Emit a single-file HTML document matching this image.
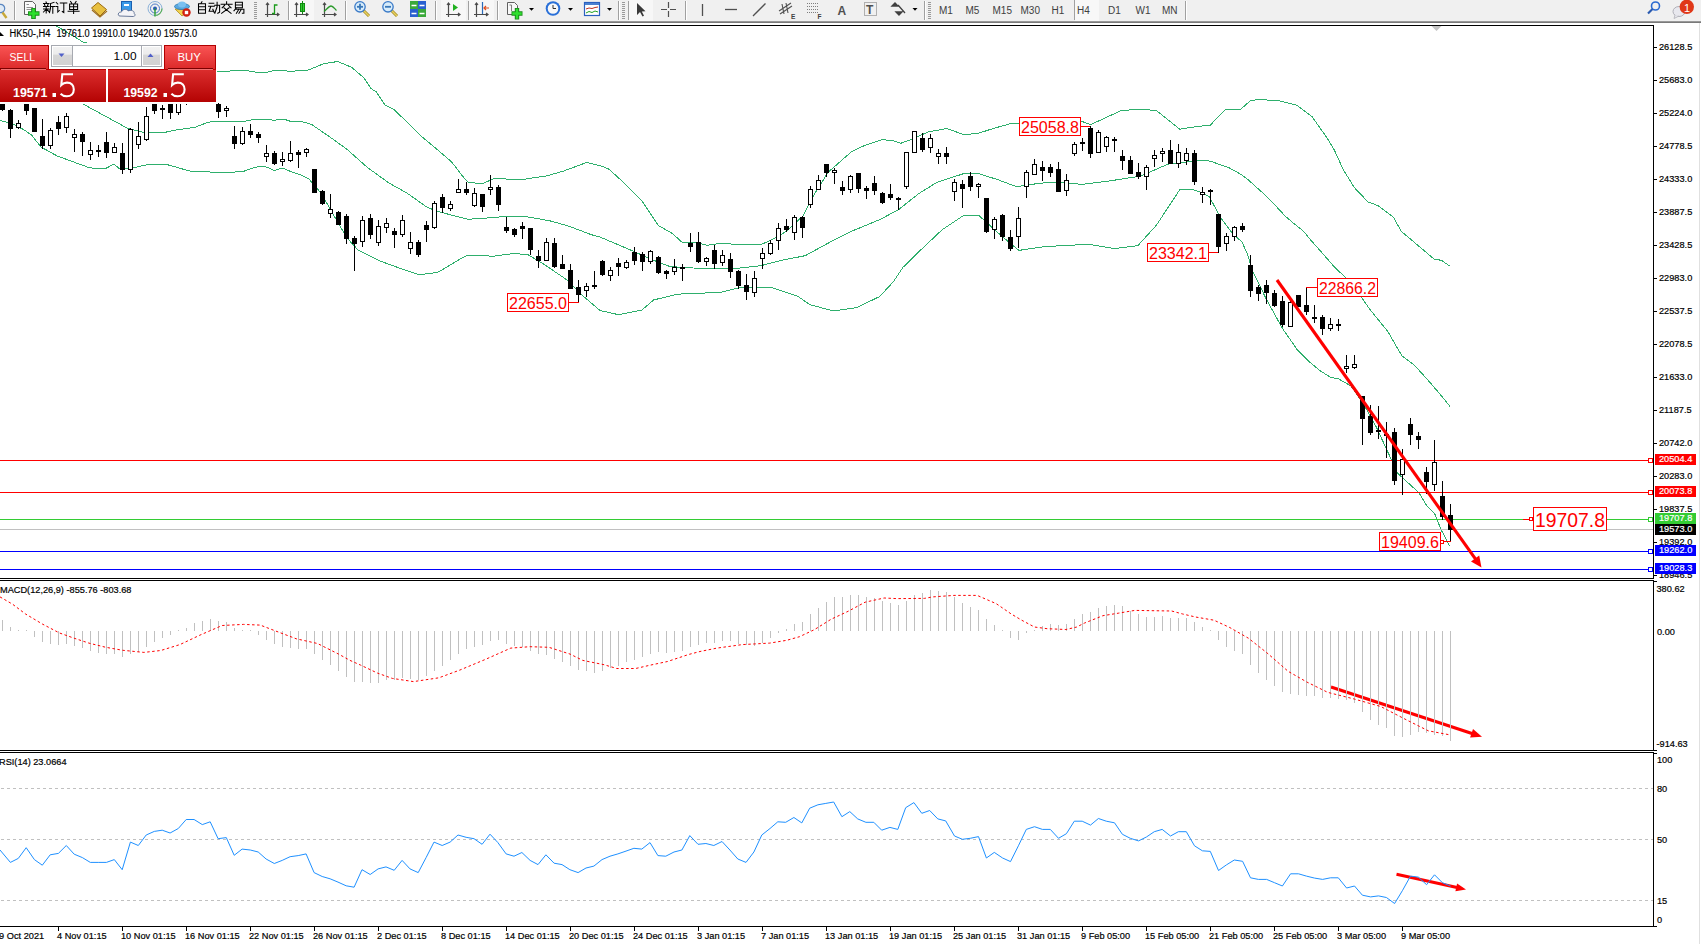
<!DOCTYPE html>
<html><head><meta charset="utf-8">
<style>
html,body{margin:0;padding:0;background:#fff;}
body{width:1701px;height:944px;overflow:hidden;position:relative;font-family:"Liberation Sans",sans-serif;}
#tb{position:absolute;left:0;top:0;width:1701px;height:21px;background:#f0f0f0;}
#tbline{position:absolute;left:0;top:21px;width:1701px;height:2px;background:linear-gradient(#a8a8a8,#6a6a6a);}
.abs{position:absolute;}
</style></head><body>
<div id="tb"></div><div id="tbline"></div>
<svg class="abs" style="left:0;top:0" width="1701" height="21">
<circle cx="0.5" cy="8.5" r="4.2" fill="#dfeaf5" stroke="#5a86c0" stroke-width="1.2"/><path d="M2.5,12.5 L6.5,18" stroke="#c8a838" stroke-width="2.4"/>
<rect x="14" y="1" width="1" height="19" fill="#a0a0a0"/><rect x="15" y="1" width="1" height="19" fill="#ffffff"/>
<path d="M24.5,1.5 H32.5 L35.5,4.5 V14.5 H24.5 Z" fill="#fafafa" stroke="#606060" stroke-width="1"/>
<path d="M26.5,4.5 H29 M26.5,7.5 H33 M26.5,9.5 H33" stroke="#909090" stroke-width="1"/>
<path d="M33.5,8 V19 M28,13.5 H39.5" stroke="#1a8a1a" stroke-width="4.6"/><path d="M33.5,8.8 V18.2 M28.8,13.5 H38.7" stroke="#2ee02e" stroke-width="2.6"/>
<g fill="none" stroke="#000" stroke-width="1.05" stroke-linecap="square"><path transform="translate(43.0,1.5)" d="M3,0.5 L3.5,1.5 M0.5,2 H6 M1.5,2.8 L2,4.5 M5,2.8 L4.5,4.5 M0.5,5 H6 M3.2,5 V11.5 M0.5,7.5 H6 M3,8 L0.5,10.5 M3.5,8 L6,10 M11,0.8 L7.5,2 V7 L6.5,11 M7.5,5 H11.5 M9.8,5 V11.8"/><path transform="translate(55.3,1.5)" d="M1,1 L2.5,2.5 M0.5,5 H2.5 V10.5 L4,9 M5,1.5 H11.5 M8.5,1.5 V11 L7,10"/><path transform="translate(67.6,1.5)" d="M3,0 L4,1.5 M8.5,0 L7.5,1.5 M2,2.5 H10 V8 H2 Z M2,5.2 H10 M6,2.5 V12 M0.5,9.8 H11.5"/></g>
<path d="M91.5,8 L98,2.5 L106.5,9.5 L100,16 Z" fill="#e8c040" stroke="#9a6a10" stroke-width="1"/><path d="M92,10 L100,17 L107,11" fill="none" stroke="#a07020" stroke-width="1.2"/>
<rect x="121.5" y="1.5" width="10" height="9" fill="#3a9ae8" stroke="#1a60b0"/><rect x="124" y="4" width="5" height="2" fill="#fff"/>
<path d="M120,16 C117,16 118,11.5 121.5,12 C122,9 127,8.5 128.5,11 C131,9.5 135,11 134,13.5 C136,14.5 135,16.5 133,16.5 Z" fill="#f4f4f8" stroke="#6a7a9a" stroke-width="1"/>
<circle cx="155" cy="8.5" r="7" fill="none" stroke="#8ab0d8" stroke-width="1"/><circle cx="155" cy="8.5" r="4.5" fill="none" stroke="#4a7ac8" stroke-width="1"/><circle cx="155" cy="8.5" r="2" fill="#2a5ab8"/><path d="M155,8.5 V16.5" stroke="#2aa02a" stroke-width="1.4"/><path d="M162,8.5 A7,7 0 0 1 155,15.5" fill="none" stroke="#5ab05a" stroke-width="1.2"/>
<path d="M175,9 L182,16 L189,10 Z" fill="#f0d050" stroke="#b09020" stroke-width="0.8"/><ellipse cx="182" cy="6.5" rx="7.5" ry="3" fill="#5aa8e0" stroke="#2a78b0" stroke-width="0.8"/><ellipse cx="182" cy="4.5" rx="4" ry="3" fill="#7ac0f0"/>
<circle cx="186.5" cy="12.5" r="4.2" fill="#d02010"/><rect x="184.8" y="10.8" width="3.4" height="3.4" fill="#fff"/>
<g fill="none" stroke="#000" stroke-width="1.05" stroke-linecap="square"><path transform="translate(196.0,1.8)" d="M6,0 L5,1.5 M2.5,2 H9.5 V11.5 H2.5 Z M2.5,5 H9.5 M2.5,8 H9.5"/><path transform="translate(208.3,1.8)" d="M0.8,1.5 H5.5 M0.3,4.5 H6 M2.5,4.5 L0.8,9.5 H5.5 M4.5,7.5 L5.8,10.5 M6.5,3.5 H11.3 V10.5 L9.5,11.5 M8.8,0.5 V5 L6.5,11.5"/><path transform="translate(220.6,1.8)" d="M6,0 V1.5 M0.5,2.5 H11.5 M4,3.5 L1.5,6 M8,3.5 L10.5,6 M3.5,6 L10.5,11.5 M8.5,6 L1,11.5"/><path transform="translate(232.9,1.8)" d="M2.5,0.5 H9.5 V6 H2.5 Z M2.5,3.2 H9.5 M3.5,6 L1,9 M3,7.5 H11 V11.5 L9.5,11.5 M6,7.5 L3.5,11.5 M8.5,7.5 L6,11.5"/></g>
<rect x="254" y="2" width="3" height="1" fill="#9a9a9a"/><rect x="254" y="4" width="3" height="1" fill="#9a9a9a"/><rect x="254" y="6" width="3" height="1" fill="#9a9a9a"/><rect x="254" y="8" width="3" height="1" fill="#9a9a9a"/><rect x="254" y="10" width="3" height="1" fill="#9a9a9a"/><rect x="254" y="12" width="3" height="1" fill="#9a9a9a"/><rect x="254" y="14" width="3" height="1" fill="#9a9a9a"/><rect x="254" y="16" width="3" height="1" fill="#9a9a9a"/><rect x="254" y="18" width="3" height="1" fill="#9a9a9a"/>
<g stroke="#4a4a4a" stroke-width="1.2" fill="none"><path d="M267.5,3.0 V17.0 M265.0,14.5 H279.0"/><path d="M266.0,5.0 L267.5,3.0 L269.0,5.0 M277.0,13.0 L279.0,14.5 L277.0,16.0"/></g>
<path d="M272,13.5 H274.5 V5 H277.5" fill="none" stroke="#1a9a1a" stroke-width="1.3"/>
<rect x="288" y="1" width="1" height="19" fill="#a0a0a0"/><rect x="289" y="1" width="1" height="19" fill="#ffffff"/>
<rect x="290" y="0" width="24" height="21" fill="#f7f7f7"/>
<g stroke="#4a4a4a" stroke-width="1.2" fill="none"><path d="M296.5,3.0 V17.0 M294.0,14.5 H308.0"/><path d="M295.0,5.0 L296.5,3.0 L298.0,5.0 M306.0,13.0 L308.0,14.5 L306.0,16.0"/></g>
<rect x="300.5" y="3.5" width="4" height="8" fill="#30d030" stroke="#108a10"/><path d="M302.5,1 V14" stroke="#108a10" stroke-width="1"/>
<g stroke="#4a4a4a" stroke-width="1.2" fill="none"><path d="M324.5,3.0 V17.0 M322.0,14.5 H336.0"/><path d="M323.0,5.0 L324.5,3.0 L326.0,5.0 M334.0,13.0 L336.0,14.5 L334.0,16.0"/></g>
<path d="M324,11.5 C327,9 329,6 331,6 C333,6 334.5,8.5 336.5,10.5" fill="none" stroke="#2a9a2a" stroke-width="1.3"/>
<rect x="345" y="1" width="1" height="19" fill="#a0a0a0"/><rect x="346" y="1" width="1" height="19" fill="#ffffff"/>
<path d="M363.5,10.5 L369.0,16.0" stroke="#a08a20" stroke-width="3"/><path d="M363.5,10.5 L369.0,16.0" stroke="#e8d060" stroke-width="1.6"/>
<circle cx="360.0" cy="6.8" r="5.2" fill="#d8ecfa" stroke="#3a7ac8" stroke-width="1.3"/>
<path d="M357.0,6.8 H363.0" stroke="#3a78b8" stroke-width="1.8"/>
<path d="M360.0,3.8 V9.8" stroke="#3a78b8" stroke-width="1.8"/>
<path d="M391.5,10.5 L397.0,16.0" stroke="#a08a20" stroke-width="3"/><path d="M391.5,10.5 L397.0,16.0" stroke="#e8d060" stroke-width="1.6"/>
<circle cx="388.0" cy="6.8" r="5.2" fill="#d8ecfa" stroke="#3a7ac8" stroke-width="1.3"/>
<path d="M385.0,6.8 H391.0" stroke="#3a78b8" stroke-width="1.8"/>
<rect x="410" y="1" width="8" height="8" fill="#3aa83a"/><rect x="418" y="1" width="8" height="8" fill="#2a60d0"/><rect x="410" y="9" width="8" height="8" fill="#2a60d0"/><rect x="418" y="9" width="8" height="8" fill="#3aa83a"/>
<path d="M411.5,5.5 H416.5 M419.5,5.5 H424.5 M411.5,13.5 H416.5 M419.5,13.5 H424.5" stroke="#fff" stroke-width="1.6"/>
<rect x="435" y="1" width="1" height="19" fill="#a0a0a0"/><rect x="436" y="1" width="1" height="19" fill="#ffffff"/>
<rect x="441" y="0" width="25" height="21" fill="#f7f7f7"/>
<g stroke="#4a4a4a" stroke-width="1.2" fill="none"><path d="M448.5,3.0 V17.0 M446.0,14.5 H460.0"/><path d="M447.0,5.0 L448.5,3.0 L450.0,5.0 M458.0,13.0 L460.0,14.5 L458.0,16.0"/></g>
<path d="M453,4 L458,7.5 L453,11 Z" fill="#20b020"/>
<rect x="468" y="1" width="1" height="19" fill="#a0a0a0"/><rect x="469" y="1" width="1" height="19" fill="#ffffff"/>
<rect x="469" y="0" width="25" height="21" fill="#f7f7f7"/>
<g stroke="#4a4a4a" stroke-width="1.2" fill="none"><path d="M476.5,3.0 V17.0 M474.0,14.5 H488.0"/><path d="M475.0,5.0 L476.5,3.0 L478.0,5.0 M486.0,13.0 L488.0,14.5 L486.0,16.0"/></g>
<path d="M482.5,2 V14" stroke="#2a6ab8" stroke-width="1.2"/><path d="M489,8 H484 M486,6 L484,8 L486,10" fill="none" stroke="#e05020" stroke-width="1.2"/>
<rect x="497" y="1" width="1" height="19" fill="#a0a0a0"/><rect x="498" y="1" width="1" height="19" fill="#ffffff"/>
<path d="M507.5,2.5 H514.5 L517.5,5.5 V14.5 H507.5 Z" fill="#f8f8f8" stroke="#606060"/><path d="M509.5,5 H511.5 V11" fill="none" stroke="#707070" stroke-width="0.9"/>
<path d="M517,8 V19.5 M511.5,13.5 H522.5" stroke="#1a8a1a" stroke-width="4.4"/><path d="M517,8.8 V18.7 M512.3,13.5 H521.7" stroke="#30e030" stroke-width="2.4"/>
<path d="M529,8 H534 L531.5,10.8 Z" fill="#000"/>
<circle cx="553" cy="8.5" r="7.3" fill="#2a70d8"/><circle cx="553" cy="8.5" r="5.3" fill="#f8f8f8"/><path d="M553,5 V8.5 H556" fill="none" stroke="#303030" stroke-width="1"/>
<path d="M568,8 H573 L570.5,10.8 Z" fill="#000"/>
<rect x="584.5" y="2.5" width="15" height="13" fill="#fff" stroke="#2a60c0" stroke-width="1.2"/><rect x="585" y="3" width="14" height="2" fill="#4a80d0"/><path d="M586,9 L589,8 L592,8.5 L595,7.5 L598,7" fill="none" stroke="#c03020" stroke-width="1"/><path d="M586,13 L589,11.5 L592,12.5 L595,11 L598,12" fill="none" stroke="#20a020" stroke-width="1"/>
<path d="M607,8 H612 L609.5,10.8 Z" fill="#000"/>
<rect x="618" y="1" width="1" height="19" fill="#a0a0a0"/><rect x="619" y="1" width="1" height="19" fill="#ffffff"/>
<rect x="622" y="2" width="3" height="1" fill="#9a9a9a"/><rect x="622" y="4" width="3" height="1" fill="#9a9a9a"/><rect x="622" y="6" width="3" height="1" fill="#9a9a9a"/><rect x="622" y="8" width="3" height="1" fill="#9a9a9a"/><rect x="622" y="10" width="3" height="1" fill="#9a9a9a"/><rect x="622" y="12" width="3" height="1" fill="#9a9a9a"/><rect x="622" y="14" width="3" height="1" fill="#9a9a9a"/><rect x="622" y="16" width="3" height="1" fill="#9a9a9a"/><rect x="622" y="18" width="3" height="1" fill="#9a9a9a"/>
<rect x="628" y="1" width="1" height="19" fill="#a0a0a0"/><rect x="629" y="1" width="1" height="19" fill="#ffffff"/>
<rect x="629" y="0" width="24" height="21" fill="#f7f7f7"/>
<path d="M637,3 L637,15 L640,12 L642.5,16.5 L644,15.8 L641.8,11.5 L645.5,11.3 Z" fill="#3a3a3a"/>
<path d="M668.5,2 V17 M661,9.5 H676" stroke="#505050" stroke-width="1.2"/><rect x="667" y="8" width="3" height="3" fill="#f0f0f0"/>
<rect x="685" y="1" width="1" height="19" fill="#a0a0a0"/><rect x="686" y="1" width="1" height="19" fill="#ffffff"/>
<path d="M702.5,4 V16" stroke="#505050" stroke-width="1.3"/>
<path d="M725,9.5 H737" stroke="#505050" stroke-width="1.3"/>
<path d="M753,16 L765.5,3.5" stroke="#505050" stroke-width="1.3"/>
<path d="M779,11 L791,3 M780,14 L792,6 M782,4 L784,14 M786,3 L788,13" stroke="#505050" stroke-width="1.1"/><text x="791" y="19" font-family="Liberation Sans" font-size="6.5" font-weight="bold" fill="#404040">E</text>
<path d="M807,3.5 H819 M807,6.5 H819 M807,9.5 H819 M807,12.5 H819" stroke="#707070" stroke-width="0.9" stroke-dasharray="1,1"/><text x="817.5" y="19" font-family="Liberation Sans" font-size="6.5" font-weight="bold" fill="#404040">F</text>
<text x="837.5" y="15" font-family="Liberation Sans" font-size="12" font-weight="bold" fill="#505050">A</text>
<rect x="864.5" y="2.5" width="12" height="13" fill="none" stroke="#707070" stroke-width="1" stroke-dasharray="1,1"/><text x="866" y="14" font-family="Liberation Sans" font-size="12" font-weight="bold" fill="#505050">T</text>
<path d="M892,6 L895,3 L898,6 Z M896,12 L899,15 L902,12 Z M898,5 L905,13" fill="#404040" stroke="#404040" stroke-width="1.3"/>
<path d="M912.5,8 H917.5 L915,10.8 Z" fill="#000"/>
<rect x="924" y="1" width="1" height="19" fill="#a0a0a0"/><rect x="925" y="1" width="1" height="19" fill="#ffffff"/>
<rect x="928" y="2" width="3" height="1" fill="#9a9a9a"/><rect x="928" y="4" width="3" height="1" fill="#9a9a9a"/><rect x="928" y="6" width="3" height="1" fill="#9a9a9a"/><rect x="928" y="8" width="3" height="1" fill="#9a9a9a"/><rect x="928" y="10" width="3" height="1" fill="#9a9a9a"/><rect x="928" y="12" width="3" height="1" fill="#9a9a9a"/><rect x="928" y="14" width="3" height="1" fill="#9a9a9a"/><rect x="928" y="16" width="3" height="1" fill="#9a9a9a"/><rect x="928" y="18" width="3" height="1" fill="#9a9a9a"/>
<g font-family="Liberation Sans" font-size="10" fill="#404040">
<text x="939.0" y="13.5">M1</text>
<text x="965.5" y="13.5">M5</text>
<text x="992.5" y="13.5">M15</text>
<text x="1020.5" y="13.5">M30</text>
<text x="1051.5" y="13.5">H1</text>
</g><rect x="1074" y="0" width="1" height="20" fill="#a0a0a0"/><rect x="1075" y="0" width="24" height="21" fill="#f8f8f8"/><g font-family="Liberation Sans" font-size="10" fill="#404040">
<text x="1077.0" y="13.5">H4</text>
<text x="1108.0" y="13.5">D1</text>
<text x="1135.5" y="13.5">W1</text>
<text x="1162.0" y="13.5">MN</text>
</g>
<rect x="1185" y="1" width="1" height="19" fill="#a0a0a0"/><rect x="1186" y="1" width="1" height="19" fill="#ffffff"/>
<circle cx="1655.5" cy="6" r="4" fill="none" stroke="#2a6ad0" stroke-width="1.6"/><path d="M1652.5,9 L1648,13.5" stroke="#2a5ab0" stroke-width="2.2"/>
<ellipse cx="1679" cy="11.5" rx="6" ry="5" fill="#e8e8ee" stroke="#b0b0b8" stroke-width="1"/><path d="M1675,15 L1674,18.5 L1679,16" fill="#e8e8ee" stroke="#b0b0b8" stroke-width="0.8"/>
<circle cx="1686.8" cy="6.8" r="7.2" fill="#e03818"/><text x="1684" y="11.5" font-family="Liberation Sans" font-size="11" fill="#fff">1</text>
</svg>
<div class="abs" style="left:1699px;top:23px;width:1px;height:921px;background:#e0e0e0"></div>
<svg width="1701" height="944" viewBox="0 0 1701 944" style="position:absolute;left:0;top:0">
<defs><clipPath id="cm"><rect x="0" y="26" width="1653" height="552"/></clipPath><clipPath id="cmacd"><rect x="0" y="581" width="1653" height="169"/></clipPath><clipPath id="crsi"><rect x="0" y="753" width="1653" height="173"/></clipPath></defs>
<g shape-rendering="crispEdges" fill="#000">
<rect x="0" y="25" width="1654" height="1"/>
<rect x="1653" y="25" width="1" height="554"/>
<rect x="0" y="578" width="1654" height="1"/>
<rect x="0" y="580" width="1654" height="1"/>
<rect x="1653" y="580" width="1" height="171"/>
<rect x="0" y="750" width="1654" height="1"/>
<rect x="0" y="752" width="1654" height="1"/>
<rect x="1653" y="752" width="1" height="175"/>
<rect x="0" y="926" width="1654" height="1"/>
</g>
<g clip-path="url(#cm)">
<g fill="none" stroke="#2eaf6c" stroke-width="1" shape-rendering="crispEdges">
<polyline points="55.0,25.0 83.0,42.0 150.0,58.0 218.5,71.4 245.9,70.5 256.4,72.3 267.0,72.3 274.0,70.5 291.7,71.2 307.6,70.3 323.5,63.8 337.6,61.5 351.7,67.3 364.0,77.9 371.0,88.5 376.4,92.0 385.2,105.2 394.0,109.7 407.2,122.1 421.2,136.1 435.2,147.8 451.5,161.8 463.2,176.9 467.8,182.0 481.8,183.9 493.5,178.8 523.8,179.3 547.1,175.8 563.4,171.1 586.7,162.5 603.0,166.4 609.3,169.4 623.3,182.3 642.0,200.9 658.3,225.4 672.3,233.5 682.8,242.9 697.9,242.9 707.2,245.2 721.2,243.3 739.9,244.7 760.8,244.7 772.5,239.4 786.5,231.2 802.8,216.1 814.5,193.9 828.4,171.8 835.4,165.9 851.7,151.5 865.7,145.0 882.0,139.8 891.4,140.3 900.7,143.3 911.7,139.4 928.0,132.0 946.6,128.5 962.9,134.3 976.9,133.8 993.2,128.5 1011.9,123.3 1030.5,122.6 1049.2,122.6 1081.0,121.1 1090.5,124.6 1100.0,120.3 1121.4,110.5 1140.1,109.3 1156.4,110.5 1165.7,118.0 1179.7,129.2 1191.4,127.3 1210.3,125.1 1225.6,109.1 1240.9,109.1 1251.0,100.2 1261.2,99.7 1279.0,100.7 1296.8,105.3 1312.1,116.7 1327.3,138.3 1334.3,150.0 1343.0,169.1 1354.1,187.3 1368.0,201.9 1378.2,205.7 1393.5,217.2 1401.1,231.2 1434.1,259.1 1441.8,260.4 1449.4,266.0"/>
<polyline points="0.0,80.0 83.0,104.0 127.7,128.4 143.0,132.2 150.0,132.5 165.7,132.2 173.8,130.3 188.0,128.4 195.8,127.0 207.2,122.6 214.8,121.2 245.3,121.2 254.9,119.3 270.1,119.3 273.9,120.7 278.7,119.3 284.4,119.3 290.1,121.2 300.6,121.2 311.7,124.5 330.3,137.3 346.6,149.0 367.6,167.6 388.6,182.8 407.2,193.2 427.0,207.2 437.5,211.4 467.8,219.3 491.1,217.7 509.8,216.1 526.1,216.6 549.4,220.7 568.1,225.9 591.4,234.7 600.0,237.0 630.3,249.9 653.6,260.3 670.0,266.6 693.2,268.0 730.5,269.0 760.8,265.7 781.8,260.3 805.1,255.7 833.1,240.5 851.7,231.2 879.7,219.6 898.4,209.8 918.6,193.7 937.3,182.1 962.9,173.9 979.3,173.9 997.9,179.7 1016.6,186.7 1039.9,183.2 1058.5,182.1 1081.8,184.4 1109.8,180.9 1140.1,176.2 1168.1,164.1 1200.0,160.3 1210.3,161.1 1219.0,164.3 1228.6,167.5 1241.3,174.6 1247.7,179.4 1263.6,193.7 1274.7,204.8 1285.8,216.7 1295.3,224.7 1303.3,231.0 1311.2,240.6 1323.9,254.9 1335.0,267.6 1339.1,271.5 1344.7,276.4 1361.3,297.0 1370.1,309.7 1387.6,331.2 1401.9,355.8 1414.6,365.3 1428.9,381.2 1438.4,392.3 1449.9,406.2"/>
<polyline points="0.0,120.3 14.3,124.5 24.8,130.3 31.5,135.0 41.0,147.0 57.2,156.0 88.7,167.5 95.3,168.4 105.8,168.4 113.9,164.1 120.1,169.2 133.5,167.9 143.0,165.4 150.6,164.4 167.0,164.6 175.0,166.7 185.0,169.8 193.0,171.7 231.0,172.4 244.0,171.2 253.0,167.9 260.0,166.2 268.0,167.3 274.0,170.7 282.0,167.9 290.0,171.2 300.0,174.6 309.3,179.3 321.0,193.2 346.6,237.5 358.3,250.3 379.3,260.8 400.2,268.3 418.9,274.8 437.5,272.5 463.2,257.3 467.8,255.0 493.5,256.2 514.5,253.4 528.4,255.0 542.4,263.2 568.1,280.7 579.7,293.0 593.7,305.1 600.0,310.5 618.6,314.7 642.0,310.0 653.6,300.0 676.9,294.2 721.2,292.3 739.9,287.6 770.2,287.2 798.1,296.5 809.8,304.6 833.1,310.9 856.4,307.7 879.7,296.5 893.7,281.3 903.0,267.3 918.6,252.0 942.0,229.9 962.9,215.9 979.3,215.9 1002.6,236.9 1018.9,250.4 1044.5,246.6 1088.8,244.3 1114.5,248.5 1137.8,245.7 1156.4,225.2 1179.7,189.8 1191.4,189.1 1200.0,192.1 1209.5,196.9 1217.5,212.0 1222.2,219.9 1231.8,232.6 1242.1,242.2 1247.7,254.9 1252.4,270.7 1258.8,283.5 1266.7,300.0 1282.7,328.8 1297.0,349.4 1309.7,362.1 1319.2,370.1 1330.4,377.2 1338.3,378.8 1351.0,386.0 1358.0,395.8 1367.0,410.2 1376.0,426.4 1386.8,449.8 1397.6,473.2 1419.2,493.0 1426.4,505.3 1434.5,513.2 1440.8,529.1 1449.8,546.2"/>
</g>
<g shape-rendering="crispEdges">
<rect x="0" y="460" width="1653" height="1" fill="#ff0000"/>
<rect x="0" y="492" width="1653" height="1" fill="#ff0000"/>
<rect x="0" y="519" width="1653" height="1" fill="#33cc33"/>
<rect x="0" y="551" width="1653" height="1" fill="#0000ff"/>
<rect x="0" y="569" width="1653" height="1" fill="#0000ff"/>
<rect x="0" y="529" width="1653" height="1" fill="#c0c0c0"/>
<rect x="1648.5" y="458.5" width="4" height="4" fill="#fff" stroke="#ff0000" stroke-width="1"/>
<rect x="1648.5" y="490.5" width="4" height="4" fill="#fff" stroke="#ff0000" stroke-width="1"/>
<rect x="1648.5" y="517.5" width="4" height="4" fill="#fff" stroke="#33cc33" stroke-width="1"/>
<rect x="1648.5" y="549.5" width="4" height="4" fill="#fff" stroke="#0000ff" stroke-width="1"/>
<rect x="1648.5" y="567.5" width="4" height="4" fill="#fff" stroke="#0000ff" stroke-width="1"/>
</g>
<g shape-rendering="crispEdges" fill="#000">
<rect x="2" y="90" width="1" height="21"/>
<rect x="0" y="92" width="5" height="18"/>
<rect x="10" y="109" width="1" height="29"/>
<rect x="8" y="110" width="5" height="19"/>
<rect x="18" y="120" width="1" height="9"/>
<rect x="16" y="123" width="5" height="5"/>
<rect x="17" y="124" width="3" height="3" fill="#fff"/>
<rect x="26" y="92" width="1" height="23"/>
<rect x="24" y="95" width="5" height="16"/>
<rect x="34" y="108" width="1" height="24"/>
<rect x="32" y="108" width="5" height="24"/>
<rect x="42" y="119" width="1" height="30"/>
<rect x="40" y="136" width="5" height="10"/>
<rect x="50" y="128" width="1" height="21"/>
<rect x="48" y="130" width="5" height="16"/>
<rect x="49" y="131" width="3" height="14" fill="#fff"/>
<rect x="58" y="116" width="1" height="19"/>
<rect x="56" y="122" width="5" height="7"/>
<rect x="66" y="113" width="1" height="20"/>
<rect x="64" y="116" width="5" height="12"/>
<rect x="65" y="117" width="3" height="10" fill="#fff"/>
<rect x="74" y="129" width="1" height="23"/>
<rect x="72" y="134" width="5" height="4"/>
<rect x="73" y="135" width="3" height="2" fill="#fff"/>
<rect x="82" y="132" width="1" height="24"/>
<rect x="80" y="134" width="5" height="8"/>
<rect x="90" y="142" width="1" height="18"/>
<rect x="88" y="150" width="5" height="5"/>
<rect x="89" y="151" width="3" height="3" fill="#fff"/>
<rect x="98" y="145" width="1" height="12"/>
<rect x="96" y="150" width="5" height="2"/>
<rect x="106" y="132" width="1" height="26"/>
<rect x="104" y="142" width="5" height="11"/>
<rect x="114" y="143" width="1" height="10"/>
<rect x="112" y="147" width="5" height="6"/>
<rect x="113" y="148" width="3" height="4" fill="#fff"/>
<rect x="122" y="143" width="1" height="31"/>
<rect x="120" y="153" width="5" height="17"/>
<rect x="130" y="128" width="1" height="45"/>
<rect x="128" y="129" width="5" height="41"/>
<rect x="129" y="130" width="3" height="39" fill="#fff"/>
<rect x="138" y="122" width="1" height="27"/>
<rect x="136" y="136" width="5" height="9"/>
<rect x="137" y="137" width="3" height="7" fill="#fff"/>
<rect x="146" y="107" width="1" height="34"/>
<rect x="144" y="116" width="5" height="24"/>
<rect x="145" y="117" width="3" height="22" fill="#fff"/>
<rect x="154" y="90" width="1" height="24"/>
<rect x="152" y="95" width="5" height="16"/>
<rect x="162" y="105" width="1" height="14"/>
<rect x="160" y="108" width="5" height="2"/>
<rect x="170" y="90" width="1" height="29"/>
<rect x="168" y="95" width="5" height="18"/>
<rect x="178" y="90" width="1" height="25"/>
<rect x="176" y="95" width="5" height="18"/>
<rect x="177" y="96" width="3" height="16" fill="#fff"/>
<rect x="186" y="85" width="1" height="20"/>
<rect x="184" y="90" width="5" height="11"/>
<rect x="185" y="91" width="3" height="9" fill="#fff"/>
<rect x="194" y="80" width="1" height="19"/>
<rect x="192" y="85" width="5" height="11"/>
<rect x="202" y="80" width="1" height="19"/>
<rect x="200" y="85" width="5" height="11"/>
<rect x="201" y="86" width="3" height="9" fill="#fff"/>
<rect x="210" y="80" width="1" height="19"/>
<rect x="208" y="85" width="5" height="11"/>
<rect x="218" y="103" width="1" height="15"/>
<rect x="216" y="104" width="5" height="8"/>
<rect x="226" y="106" width="1" height="11"/>
<rect x="224" y="108" width="5" height="3"/>
<rect x="225" y="109" width="3" height="1" fill="#fff"/>
<rect x="234" y="126" width="1" height="23"/>
<rect x="232" y="136" width="5" height="8"/>
<rect x="242" y="127" width="1" height="18"/>
<rect x="240" y="131" width="5" height="13"/>
<rect x="241" y="132" width="3" height="11" fill="#fff"/>
<rect x="250" y="124" width="1" height="14"/>
<rect x="248" y="131" width="5" height="4"/>
<rect x="258" y="132" width="1" height="11"/>
<rect x="256" y="134" width="5" height="4"/>
<rect x="266" y="145" width="1" height="17"/>
<rect x="264" y="153" width="5" height="4"/>
<rect x="265" y="154" width="3" height="2" fill="#fff"/>
<rect x="274" y="151" width="1" height="14"/>
<rect x="272" y="153" width="5" height="11"/>
<rect x="282" y="152" width="1" height="14"/>
<rect x="280" y="159" width="5" height="3"/>
<rect x="281" y="160" width="3" height="1" fill="#fff"/>
<rect x="290" y="141" width="1" height="21"/>
<rect x="288" y="153" width="5" height="8"/>
<rect x="289" y="154" width="3" height="6" fill="#fff"/>
<rect x="298" y="150" width="1" height="18"/>
<rect x="296" y="152" width="5" height="3"/>
<rect x="306" y="148" width="1" height="9"/>
<rect x="304" y="149" width="5" height="4"/>
<rect x="305" y="150" width="3" height="2" fill="#fff"/>
<rect x="314" y="169" width="1" height="24"/>
<rect x="312" y="169" width="5" height="24"/>
<rect x="322" y="190" width="1" height="15"/>
<rect x="320" y="191" width="5" height="13"/>
<rect x="330" y="194" width="1" height="24"/>
<rect x="328" y="209" width="5" height="5"/>
<rect x="329" y="210" width="3" height="3" fill="#fff"/>
<rect x="338" y="211" width="1" height="14"/>
<rect x="336" y="212" width="5" height="13"/>
<rect x="346" y="214" width="1" height="30"/>
<rect x="344" y="216" width="5" height="23"/>
<rect x="354" y="236" width="1" height="35"/>
<rect x="352" y="238" width="5" height="6"/>
<rect x="362" y="216" width="1" height="31"/>
<rect x="360" y="220" width="5" height="22"/>
<rect x="361" y="221" width="3" height="20" fill="#fff"/>
<rect x="370" y="214" width="1" height="25"/>
<rect x="368" y="218" width="5" height="17"/>
<rect x="378" y="220" width="1" height="26"/>
<rect x="376" y="226" width="5" height="17"/>
<rect x="377" y="227" width="3" height="15" fill="#fff"/>
<rect x="386" y="218" width="1" height="15"/>
<rect x="384" y="223" width="5" height="5"/>
<rect x="385" y="224" width="3" height="3" fill="#fff"/>
<rect x="394" y="228" width="1" height="20"/>
<rect x="392" y="231" width="5" height="4"/>
<rect x="402" y="215" width="1" height="22"/>
<rect x="400" y="220" width="5" height="15"/>
<rect x="401" y="221" width="3" height="13" fill="#fff"/>
<rect x="410" y="232" width="1" height="22"/>
<rect x="408" y="242" width="5" height="7"/>
<rect x="409" y="243" width="3" height="5" fill="#fff"/>
<rect x="418" y="240" width="1" height="17"/>
<rect x="416" y="242" width="5" height="13"/>
<rect x="426" y="221" width="1" height="21"/>
<rect x="424" y="225" width="5" height="5"/>
<rect x="434" y="201" width="1" height="28"/>
<rect x="432" y="203" width="5" height="25"/>
<rect x="433" y="204" width="3" height="23" fill="#fff"/>
<rect x="442" y="194" width="1" height="19"/>
<rect x="440" y="197" width="5" height="11"/>
<rect x="450" y="201" width="1" height="10"/>
<rect x="448" y="204" width="5" height="5"/>
<rect x="449" y="205" width="3" height="3" fill="#fff"/>
<rect x="458" y="179" width="1" height="14"/>
<rect x="456" y="189" width="5" height="4"/>
<rect x="457" y="190" width="3" height="2" fill="#fff"/>
<rect x="466" y="182" width="1" height="13"/>
<rect x="464" y="189" width="5" height="4"/>
<rect x="474" y="188" width="1" height="19"/>
<rect x="472" y="193" width="5" height="13"/>
<rect x="473" y="194" width="3" height="11" fill="#fff"/>
<rect x="482" y="194" width="1" height="18"/>
<rect x="480" y="194" width="5" height="13"/>
<rect x="490" y="175" width="1" height="20"/>
<rect x="488" y="187" width="5" height="3"/>
<rect x="489" y="188" width="3" height="1" fill="#fff"/>
<rect x="498" y="185" width="1" height="26"/>
<rect x="496" y="187" width="5" height="18"/>
<rect x="506" y="217" width="1" height="16"/>
<rect x="504" y="227" width="5" height="4"/>
<rect x="514" y="228" width="1" height="9"/>
<rect x="512" y="229" width="5" height="6"/>
<rect x="522" y="222" width="1" height="17"/>
<rect x="520" y="226" width="5" height="3"/>
<rect x="530" y="228" width="1" height="27"/>
<rect x="528" y="228" width="5" height="22"/>
<rect x="538" y="250" width="1" height="18"/>
<rect x="536" y="256" width="5" height="5"/>
<rect x="546" y="238" width="1" height="23"/>
<rect x="544" y="242" width="5" height="19"/>
<rect x="545" y="243" width="3" height="17" fill="#fff"/>
<rect x="554" y="238" width="1" height="30"/>
<rect x="552" y="243" width="5" height="24"/>
<rect x="562" y="255" width="1" height="14"/>
<rect x="560" y="264" width="5" height="5"/>
<rect x="570" y="264" width="1" height="25"/>
<rect x="568" y="270" width="5" height="19"/>
<rect x="578" y="280" width="1" height="23"/>
<rect x="576" y="287" width="5" height="8"/>
<rect x="586" y="283" width="1" height="14"/>
<rect x="584" y="286" width="5" height="5"/>
<rect x="585" y="287" width="3" height="3" fill="#fff"/>
<rect x="594" y="271" width="1" height="18"/>
<rect x="592" y="285" width="5" height="2"/>
<rect x="602" y="260" width="1" height="16"/>
<rect x="600" y="261" width="5" height="14"/>
<rect x="610" y="267" width="1" height="14"/>
<rect x="608" y="270" width="5" height="6"/>
<rect x="609" y="271" width="3" height="4" fill="#fff"/>
<rect x="618" y="258" width="1" height="18"/>
<rect x="616" y="263" width="5" height="4"/>
<rect x="626" y="260" width="1" height="9"/>
<rect x="624" y="262" width="5" height="6"/>
<rect x="625" y="263" width="3" height="4" fill="#fff"/>
<rect x="634" y="247" width="1" height="18"/>
<rect x="632" y="252" width="5" height="9"/>
<rect x="642" y="252" width="1" height="19"/>
<rect x="640" y="254" width="5" height="8"/>
<rect x="650" y="250" width="1" height="14"/>
<rect x="648" y="251" width="5" height="11"/>
<rect x="649" y="252" width="3" height="9" fill="#fff"/>
<rect x="658" y="256" width="1" height="18"/>
<rect x="656" y="257" width="5" height="16"/>
<rect x="666" y="270" width="1" height="9"/>
<rect x="664" y="271" width="5" height="3"/>
<rect x="674" y="259" width="1" height="16"/>
<rect x="672" y="267" width="5" height="5"/>
<rect x="673" y="268" width="3" height="3" fill="#fff"/>
<rect x="682" y="264" width="1" height="17"/>
<rect x="680" y="267" width="5" height="2"/>
<rect x="690" y="233" width="1" height="19"/>
<rect x="688" y="243" width="5" height="4"/>
<rect x="698" y="232" width="1" height="31"/>
<rect x="696" y="242" width="5" height="20"/>
<rect x="706" y="257" width="1" height="9"/>
<rect x="704" y="258" width="5" height="4"/>
<rect x="705" y="259" width="3" height="2" fill="#fff"/>
<rect x="714" y="245" width="1" height="24"/>
<rect x="712" y="250" width="5" height="14"/>
<rect x="722" y="250" width="1" height="16"/>
<rect x="720" y="255" width="5" height="8"/>
<rect x="721" y="256" width="3" height="6" fill="#fff"/>
<rect x="730" y="253" width="1" height="25"/>
<rect x="728" y="259" width="5" height="13"/>
<rect x="738" y="270" width="1" height="19"/>
<rect x="736" y="271" width="5" height="15"/>
<rect x="746" y="274" width="1" height="26"/>
<rect x="744" y="285" width="5" height="7"/>
<rect x="754" y="271" width="1" height="26"/>
<rect x="752" y="278" width="5" height="15"/>
<rect x="753" y="279" width="3" height="13" fill="#fff"/>
<rect x="762" y="248" width="1" height="21"/>
<rect x="760" y="253" width="5" height="6"/>
<rect x="761" y="254" width="3" height="4" fill="#fff"/>
<rect x="770" y="240" width="1" height="15"/>
<rect x="768" y="243" width="5" height="11"/>
<rect x="769" y="244" width="3" height="9" fill="#fff"/>
<rect x="778" y="223" width="1" height="27"/>
<rect x="776" y="228" width="5" height="13"/>
<rect x="777" y="229" width="3" height="11" fill="#fff"/>
<rect x="786" y="219" width="1" height="13"/>
<rect x="784" y="226" width="5" height="4"/>
<rect x="794" y="215" width="1" height="25"/>
<rect x="792" y="217" width="5" height="16"/>
<rect x="793" y="218" width="3" height="14" fill="#fff"/>
<rect x="802" y="216" width="1" height="22"/>
<rect x="800" y="217" width="5" height="11"/>
<rect x="810" y="186" width="1" height="22"/>
<rect x="808" y="189" width="5" height="16"/>
<rect x="809" y="190" width="3" height="14" fill="#fff"/>
<rect x="818" y="175" width="1" height="15"/>
<rect x="816" y="180" width="5" height="10"/>
<rect x="817" y="181" width="3" height="8" fill="#fff"/>
<rect x="826" y="164" width="1" height="13"/>
<rect x="824" y="164" width="5" height="9"/>
<rect x="834" y="168" width="1" height="16"/>
<rect x="832" y="170" width="5" height="3"/>
<rect x="833" y="171" width="3" height="1" fill="#fff"/>
<rect x="842" y="181" width="1" height="14"/>
<rect x="840" y="187" width="5" height="4"/>
<rect x="850" y="175" width="1" height="18"/>
<rect x="848" y="176" width="5" height="14"/>
<rect x="849" y="177" width="3" height="12" fill="#fff"/>
<rect x="858" y="173" width="1" height="20"/>
<rect x="856" y="173" width="5" height="16"/>
<rect x="866" y="186" width="1" height="13"/>
<rect x="864" y="188" width="5" height="3"/>
<rect x="874" y="176" width="1" height="19"/>
<rect x="872" y="183" width="5" height="8"/>
<rect x="882" y="192" width="1" height="12"/>
<rect x="880" y="193" width="5" height="10"/>
<rect x="890" y="184" width="1" height="16"/>
<rect x="888" y="194" width="5" height="4"/>
<rect x="898" y="197" width="1" height="13"/>
<rect x="896" y="198" width="5" height="2"/>
<rect x="906" y="152" width="1" height="37"/>
<rect x="904" y="152" width="5" height="35"/>
<rect x="905" y="153" width="3" height="33" fill="#fff"/>
<rect x="914" y="131" width="1" height="22"/>
<rect x="912" y="131" width="5" height="22"/>
<rect x="913" y="132" width="3" height="20" fill="#fff"/>
<rect x="922" y="133" width="1" height="19"/>
<rect x="920" y="138" width="5" height="12"/>
<rect x="930" y="134" width="1" height="19"/>
<rect x="928" y="138" width="5" height="10"/>
<rect x="929" y="139" width="3" height="8" fill="#fff"/>
<rect x="938" y="149" width="1" height="15"/>
<rect x="936" y="153" width="5" height="4"/>
<rect x="937" y="154" width="3" height="2" fill="#fff"/>
<rect x="946" y="147" width="1" height="17"/>
<rect x="944" y="153" width="5" height="4"/>
<rect x="954" y="179" width="1" height="22"/>
<rect x="952" y="182" width="5" height="10"/>
<rect x="953" y="183" width="3" height="8" fill="#fff"/>
<rect x="962" y="180" width="1" height="28"/>
<rect x="960" y="184" width="5" height="5"/>
<rect x="970" y="172" width="1" height="19"/>
<rect x="968" y="176" width="5" height="11"/>
<rect x="978" y="183" width="1" height="15"/>
<rect x="976" y="184" width="5" height="3"/>
<rect x="977" y="185" width="3" height="1" fill="#fff"/>
<rect x="986" y="198" width="1" height="35"/>
<rect x="984" y="198" width="5" height="34"/>
<rect x="994" y="217" width="1" height="22"/>
<rect x="992" y="219" width="5" height="11"/>
<rect x="993" y="220" width="3" height="9" fill="#fff"/>
<rect x="1002" y="214" width="1" height="27"/>
<rect x="1000" y="215" width="5" height="22"/>
<rect x="1010" y="230" width="1" height="21"/>
<rect x="1008" y="237" width="5" height="12"/>
<rect x="1018" y="207" width="1" height="41"/>
<rect x="1016" y="218" width="5" height="19"/>
<rect x="1017" y="219" width="3" height="17" fill="#fff"/>
<rect x="1026" y="170" width="1" height="28"/>
<rect x="1024" y="172" width="5" height="15"/>
<rect x="1025" y="173" width="3" height="13" fill="#fff"/>
<rect x="1034" y="159" width="1" height="16"/>
<rect x="1032" y="164" width="5" height="11"/>
<rect x="1033" y="165" width="3" height="9" fill="#fff"/>
<rect x="1042" y="161" width="1" height="20"/>
<rect x="1040" y="167" width="5" height="4"/>
<rect x="1050" y="164" width="1" height="13"/>
<rect x="1048" y="167" width="5" height="6"/>
<rect x="1058" y="162" width="1" height="30"/>
<rect x="1056" y="169" width="5" height="23"/>
<rect x="1066" y="174" width="1" height="22"/>
<rect x="1064" y="180" width="5" height="11"/>
<rect x="1065" y="181" width="3" height="9" fill="#fff"/>
<rect x="1074" y="142" width="1" height="14"/>
<rect x="1072" y="144" width="5" height="10"/>
<rect x="1073" y="145" width="3" height="8" fill="#fff"/>
<rect x="1082" y="138" width="1" height="13"/>
<rect x="1080" y="142" width="5" height="2"/>
<rect x="1090" y="126" width="1" height="32"/>
<rect x="1088" y="128" width="5" height="26"/>
<rect x="1098" y="130" width="1" height="23"/>
<rect x="1096" y="132" width="5" height="21"/>
<rect x="1097" y="133" width="3" height="19" fill="#fff"/>
<rect x="1106" y="136" width="1" height="16"/>
<rect x="1104" y="137" width="5" height="10"/>
<rect x="1105" y="138" width="3" height="8" fill="#fff"/>
<rect x="1114" y="137" width="1" height="15"/>
<rect x="1112" y="139" width="5" height="2"/>
<rect x="1122" y="150" width="1" height="20"/>
<rect x="1120" y="156" width="5" height="5"/>
<rect x="1130" y="156" width="1" height="18"/>
<rect x="1128" y="160" width="5" height="14"/>
<rect x="1138" y="163" width="1" height="16"/>
<rect x="1136" y="172" width="5" height="5"/>
<rect x="1146" y="165" width="1" height="25"/>
<rect x="1144" y="167" width="5" height="10"/>
<rect x="1145" y="168" width="3" height="8" fill="#fff"/>
<rect x="1154" y="150" width="1" height="17"/>
<rect x="1152" y="155" width="5" height="4"/>
<rect x="1153" y="156" width="3" height="2" fill="#fff"/>
<rect x="1162" y="148" width="1" height="14"/>
<rect x="1160" y="151" width="5" height="3"/>
<rect x="1161" y="152" width="3" height="1" fill="#fff"/>
<rect x="1170" y="140" width="1" height="24"/>
<rect x="1168" y="150" width="5" height="14"/>
<rect x="1178" y="144" width="1" height="24"/>
<rect x="1176" y="152" width="5" height="12"/>
<rect x="1177" y="153" width="3" height="10" fill="#fff"/>
<rect x="1186" y="148" width="1" height="17"/>
<rect x="1184" y="153" width="5" height="8"/>
<rect x="1185" y="154" width="3" height="6" fill="#fff"/>
<rect x="1194" y="150" width="1" height="35"/>
<rect x="1192" y="153" width="5" height="29"/>
<rect x="1202" y="187" width="1" height="16"/>
<rect x="1200" y="192" width="5" height="3"/>
<rect x="1201" y="193" width="3" height="1" fill="#fff"/>
<rect x="1210" y="189" width="1" height="16"/>
<rect x="1208" y="190" width="5" height="2"/>
<rect x="1218" y="214" width="1" height="39"/>
<rect x="1216" y="214" width="5" height="33"/>
<rect x="1226" y="233" width="1" height="18"/>
<rect x="1224" y="236" width="5" height="8"/>
<rect x="1225" y="237" width="3" height="6" fill="#fff"/>
<rect x="1234" y="226" width="1" height="15"/>
<rect x="1232" y="227" width="5" height="10"/>
<rect x="1233" y="228" width="3" height="8" fill="#fff"/>
<rect x="1242" y="223" width="1" height="9"/>
<rect x="1240" y="226" width="5" height="4"/>
<rect x="1250" y="255" width="1" height="42"/>
<rect x="1248" y="265" width="5" height="26"/>
<rect x="1258" y="285" width="1" height="16"/>
<rect x="1256" y="287" width="5" height="7"/>
<rect x="1266" y="280" width="1" height="24"/>
<rect x="1264" y="285" width="5" height="8"/>
<rect x="1274" y="290" width="1" height="17"/>
<rect x="1272" y="293" width="5" height="13"/>
<rect x="1282" y="296" width="1" height="31"/>
<rect x="1280" y="301" width="5" height="24"/>
<rect x="1290" y="300" width="1" height="27"/>
<rect x="1288" y="302" width="5" height="25"/>
<rect x="1289" y="303" width="3" height="23" fill="#fff"/>
<rect x="1298" y="295" width="1" height="12"/>
<rect x="1296" y="295" width="5" height="12"/>
<rect x="1306" y="287" width="1" height="28"/>
<rect x="1304" y="305" width="5" height="7"/>
<rect x="1314" y="305" width="1" height="18"/>
<rect x="1312" y="317" width="5" height="2"/>
<rect x="1322" y="315" width="1" height="20"/>
<rect x="1320" y="317" width="5" height="12"/>
<rect x="1330" y="318" width="1" height="13"/>
<rect x="1328" y="324" width="5" height="5"/>
<rect x="1329" y="325" width="3" height="3" fill="#fff"/>
<rect x="1338" y="319" width="1" height="12"/>
<rect x="1336" y="324" width="5" height="2"/>
<rect x="1346" y="355" width="1" height="18"/>
<rect x="1344" y="366" width="5" height="3"/>
<rect x="1345" y="367" width="3" height="1" fill="#fff"/>
<rect x="1354" y="355" width="1" height="14"/>
<rect x="1352" y="364" width="5" height="4"/>
<rect x="1353" y="365" width="3" height="2" fill="#fff"/>
<rect x="1362" y="396" width="1" height="49"/>
<rect x="1360" y="396" width="5" height="23"/>
<rect x="1370" y="405" width="1" height="30"/>
<rect x="1368" y="416" width="5" height="17"/>
<rect x="1378" y="406" width="1" height="33"/>
<rect x="1376" y="430" width="5" height="2"/>
<rect x="1386" y="422" width="1" height="36"/>
<rect x="1384" y="434" width="5" height="2"/>
<rect x="1394" y="428" width="1" height="57"/>
<rect x="1392" y="432" width="5" height="49"/>
<rect x="1402" y="449" width="1" height="46"/>
<rect x="1400" y="459" width="5" height="16"/>
<rect x="1401" y="460" width="3" height="14" fill="#fff"/>
<rect x="1410" y="418" width="1" height="27"/>
<rect x="1408" y="424" width="5" height="11"/>
<rect x="1418" y="432" width="1" height="17"/>
<rect x="1416" y="436" width="5" height="4"/>
<rect x="1426" y="467" width="1" height="27"/>
<rect x="1424" y="472" width="5" height="10"/>
<rect x="1434" y="440" width="1" height="51"/>
<rect x="1432" y="462" width="5" height="23"/>
<rect x="1433" y="463" width="3" height="21" fill="#fff"/>
<rect x="1442" y="481" width="1" height="39"/>
<rect x="1440" y="496" width="5" height="21"/>
<rect x="1450" y="504" width="1" height="38"/>
<rect x="1448" y="515" width="5" height="15"/>
</g>
</g>
<rect x="507.5" y="293.5" width="61.0" height="18.0" fill="#fff" stroke="#ff0000" stroke-width="1" shape-rendering="crispEdges"/>
<text x="538.0" y="308.8" font-family='Liberation Sans' font-size="16.0" fill="#ff0000" text-anchor="middle" textLength="58.0" lengthAdjust="spacingAndGlyphs">22655.0</text>
<rect x="569.0" y="302" width="10.0" height="1" fill="#ff0000" shape-rendering="crispEdges"/>
<rect x="1019.5" y="117.5" width="61.0" height="18.0" fill="#fff" stroke="#ff0000" stroke-width="1" shape-rendering="crispEdges"/>
<text x="1050.0" y="132.8" font-family='Liberation Sans' font-size="16.0" fill="#ff0000" text-anchor="middle" textLength="58.0" lengthAdjust="spacingAndGlyphs">25058.8</text>
<rect x="1081.0" y="126" width="9.0" height="1" fill="#ff0000" shape-rendering="crispEdges"/>
<rect x="1147.5" y="243.5" width="61.0" height="18.0" fill="#fff" stroke="#ff0000" stroke-width="1" shape-rendering="crispEdges"/>
<text x="1178.0" y="258.8" font-family='Liberation Sans' font-size="16.0" fill="#ff0000" text-anchor="middle" textLength="58.0" lengthAdjust="spacingAndGlyphs">23342.1</text>
<rect x="1209.0" y="252" width="9.0" height="1" fill="#ff0000" shape-rendering="crispEdges"/>
<rect x="1317.5" y="278.5" width="60.0" height="18.0" fill="#fff" stroke="#ff0000" stroke-width="1" shape-rendering="crispEdges"/>
<text x="1347.5" y="293.8" font-family='Liberation Sans' font-size="16.0" fill="#ff0000" text-anchor="middle" textLength="57.0" lengthAdjust="spacingAndGlyphs">22866.2</text>
<rect x="1306.0" y="287" width="11.0" height="1" fill="#ff0000" shape-rendering="crispEdges"/>
<rect x="1379.5" y="532.5" width="61.0" height="18.0" fill="#fff" stroke="#ff0000" stroke-width="1" shape-rendering="crispEdges"/>
<text x="1410.0" y="547.8" font-family='Liberation Sans' font-size="16.0" fill="#ff0000" text-anchor="middle" textLength="58.0" lengthAdjust="spacingAndGlyphs">19409.6</text>
<rect x="1444.0" y="541" width="7.0" height="1" fill="#ff0000" shape-rendering="crispEdges"/>
<rect x="1440.5" y="540.0" width="3" height="3" fill="#fff" stroke="#ff0000" stroke-width="1" shape-rendering="crispEdges"/>
<rect x="1533.5" y="507.5" width="73.0" height="23.0" fill="#fff" stroke="#ff0000" stroke-width="1" shape-rendering="crispEdges"/>
<text x="1570.0" y="527.0" font-family='Liberation Sans' font-size="21.0" fill="#ff0000" text-anchor="middle" textLength="70.0" lengthAdjust="spacingAndGlyphs">19707.8</text>
<rect x="1523.0" y="519" width="7.0" height="1" fill="#ff0000" shape-rendering="crispEdges"/>
<rect x="1529.5" y="517.5" width="3" height="3" fill="#fff" stroke="#ff0000" stroke-width="1" shape-rendering="crispEdges"/>
<line x1="1277.0" y1="280.0" x2="1476.3" y2="560.2" stroke="#ff0000" stroke-width="3.1"/>
<polygon points="1481.5,567.5 1471.0,561.4 1479.2,555.6" fill="#ff0000"/>
<line x1="1331.0" y1="687.0" x2="1473.5" y2="734.0" stroke="#ff0000" stroke-width="3.2"/>
<polygon points="1482.0,736.8 1470.1,737.6 1473.0,729.1" fill="#ff0000"/>
<line x1="1396.5" y1="874.2" x2="1458.2" y2="887.8" stroke="#ff0000" stroke-width="3.0"/>
<polygon points="1466.0,889.5 1455.4,891.3 1457.1,883.4" fill="#ff0000"/>
<g shape-rendering="crispEdges" fill="#000">
<rect x="1654" y="47" width="3" height="1"/>
<rect x="1654" y="80" width="3" height="1"/>
<rect x="1654" y="113" width="3" height="1"/>
<rect x="1654" y="146" width="3" height="1"/>
<rect x="1654" y="179" width="3" height="1"/>
<rect x="1654" y="212" width="3" height="1"/>
<rect x="1654" y="245" width="3" height="1"/>
<rect x="1654" y="278" width="3" height="1"/>
<rect x="1654" y="311" width="3" height="1"/>
<rect x="1654" y="344" width="3" height="1"/>
<rect x="1654" y="377" width="3" height="1"/>
<rect x="1654" y="410" width="3" height="1"/>
<rect x="1654" y="443" width="3" height="1"/>
<rect x="1654" y="476" width="3" height="1"/>
<rect x="1654" y="509" width="3" height="1"/>
<rect x="1654" y="542" width="3" height="1"/>
<rect x="1654" y="575" width="3" height="1"/>
<rect x="1654" y="581" width="3" height="1"/><rect x="1654" y="750" width="3" height="1"/>
<rect x="1654" y="753" width="3" height="1"/><rect x="1654" y="926" width="3" height="1"/>
</g>
<g font-family="Liberation Sans" font-size="10" fill="#000">
<text transform="translate(1659.00,50.30) scale(0.970,1)" x="0" y="0" font-family="Liberation Sans" font-size="9.5" fill="#000" stroke="#000" stroke-width="0.2" >26128.5</text>
<text transform="translate(1659.00,83.30) scale(0.970,1)" x="0" y="0" font-family="Liberation Sans" font-size="9.5" fill="#000" stroke="#000" stroke-width="0.2" >25683.0</text>
<text transform="translate(1659.00,116.30) scale(0.970,1)" x="0" y="0" font-family="Liberation Sans" font-size="9.5" fill="#000" stroke="#000" stroke-width="0.2" >25224.0</text>
<text transform="translate(1659.00,149.30) scale(0.970,1)" x="0" y="0" font-family="Liberation Sans" font-size="9.5" fill="#000" stroke="#000" stroke-width="0.2" >24778.5</text>
<text transform="translate(1659.00,182.30) scale(0.970,1)" x="0" y="0" font-family="Liberation Sans" font-size="9.5" fill="#000" stroke="#000" stroke-width="0.2" >24333.0</text>
<text transform="translate(1659.00,215.30) scale(0.970,1)" x="0" y="0" font-family="Liberation Sans" font-size="9.5" fill="#000" stroke="#000" stroke-width="0.2" >23887.5</text>
<text transform="translate(1659.00,248.30) scale(0.970,1)" x="0" y="0" font-family="Liberation Sans" font-size="9.5" fill="#000" stroke="#000" stroke-width="0.2" >23428.5</text>
<text transform="translate(1659.00,281.30) scale(0.970,1)" x="0" y="0" font-family="Liberation Sans" font-size="9.5" fill="#000" stroke="#000" stroke-width="0.2" >22983.0</text>
<text transform="translate(1659.00,314.30) scale(0.970,1)" x="0" y="0" font-family="Liberation Sans" font-size="9.5" fill="#000" stroke="#000" stroke-width="0.2" >22537.5</text>
<text transform="translate(1659.00,347.30) scale(0.970,1)" x="0" y="0" font-family="Liberation Sans" font-size="9.5" fill="#000" stroke="#000" stroke-width="0.2" >22078.5</text>
<text transform="translate(1659.00,380.30) scale(0.970,1)" x="0" y="0" font-family="Liberation Sans" font-size="9.5" fill="#000" stroke="#000" stroke-width="0.2" >21633.0</text>
<text transform="translate(1659.00,413.30) scale(0.970,1)" x="0" y="0" font-family="Liberation Sans" font-size="9.5" fill="#000" stroke="#000" stroke-width="0.2" >21187.5</text>
<text transform="translate(1659.00,446.30) scale(0.970,1)" x="0" y="0" font-family="Liberation Sans" font-size="9.5" fill="#000" stroke="#000" stroke-width="0.2" >20742.0</text>
<text transform="translate(1659.00,479.30) scale(0.970,1)" x="0" y="0" font-family="Liberation Sans" font-size="9.5" fill="#000" stroke="#000" stroke-width="0.2" >20283.0</text>
<text transform="translate(1659.00,512.30) scale(0.970,1)" x="0" y="0" font-family="Liberation Sans" font-size="9.5" fill="#000" stroke="#000" stroke-width="0.2" >19837.5</text>
<text transform="translate(1659.00,545.30) scale(0.970,1)" x="0" y="0" font-family="Liberation Sans" font-size="9.5" fill="#000" stroke="#000" stroke-width="0.2" >19392.0</text>
<text transform="translate(1659.00,578.30) scale(0.970,1)" x="0" y="0" font-family="Liberation Sans" font-size="9.5" fill="#000" stroke="#000" stroke-width="0.2" >18946.5</text>
</g>
<rect x="1655" y="454" width="41" height="11" fill="#ff0000" shape-rendering="crispEdges"/>
<text transform="translate(1659.00,462.40) scale(0.970,1)" x="0" y="0" font-family="Liberation Sans" font-size="9.5" fill="#fff" stroke="#fff" stroke-width="0.2" >20504.4</text>
<rect x="1655" y="486" width="41" height="11" fill="#ff0000" shape-rendering="crispEdges"/>
<text transform="translate(1659.00,494.40) scale(0.970,1)" x="0" y="0" font-family="Liberation Sans" font-size="9.5" fill="#fff" stroke="#fff" stroke-width="0.2" >20073.8</text>
<rect x="1655" y="513" width="41" height="11" fill="#33cc33" shape-rendering="crispEdges"/>
<text transform="translate(1659.00,521.40) scale(0.970,1)" x="0" y="0" font-family="Liberation Sans" font-size="9.5" fill="#fff" stroke="#fff" stroke-width="0.2" >19707.8</text>
<rect x="1655" y="524" width="41" height="11" fill="#000000" shape-rendering="crispEdges"/>
<text transform="translate(1659.00,532.40) scale(0.970,1)" x="0" y="0" font-family="Liberation Sans" font-size="9.5" fill="#fff" stroke="#fff" stroke-width="0.2" >19573.0</text>
<rect x="1655" y="545" width="41" height="11" fill="#0000ff" shape-rendering="crispEdges"/>
<text transform="translate(1659.00,553.40) scale(0.970,1)" x="0" y="0" font-family="Liberation Sans" font-size="9.5" fill="#fff" stroke="#fff" stroke-width="0.2" >19262.0</text>
<rect x="1655" y="563" width="41" height="11" fill="#0000ff" shape-rendering="crispEdges"/>
<text transform="translate(1659.00,571.40) scale(0.970,1)" x="0" y="0" font-family="Liberation Sans" font-size="9.5" fill="#fff" stroke="#fff" stroke-width="0.2" >19028.3</text>
<polygon points="1431.5,26 1441.5,26 1436.5,31" fill="#c4c4c4"/>
<g clip-path="url(#cmacd)" shape-rendering="crispEdges" fill="#c0c0c0">
<rect x="2" y="620" width="1" height="11"/>
<rect x="10" y="627" width="1" height="4"/>
<rect x="18" y="630" width="1" height="1"/>
<rect x="26" y="630" width="1" height="1"/>
<rect x="34" y="631" width="1" height="6"/>
<rect x="42" y="631" width="1" height="11"/>
<rect x="50" y="631" width="1" height="13"/>
<rect x="58" y="631" width="1" height="14"/>
<rect x="66" y="631" width="1" height="13"/>
<rect x="74" y="631" width="1" height="15"/>
<rect x="82" y="631" width="1" height="17"/>
<rect x="90" y="631" width="1" height="20"/>
<rect x="98" y="631" width="1" height="22"/>
<rect x="106" y="631" width="1" height="23"/>
<rect x="114" y="631" width="1" height="23"/>
<rect x="122" y="631" width="1" height="26"/>
<rect x="130" y="631" width="1" height="23"/>
<rect x="138" y="631" width="1" height="21"/>
<rect x="146" y="631" width="1" height="16"/>
<rect x="154" y="631" width="1" height="11"/>
<rect x="162" y="631" width="1" height="7"/>
<rect x="170" y="631" width="1" height="4"/>
<rect x="178" y="630" width="1" height="1"/>
<rect x="186" y="628" width="1" height="3"/>
<rect x="194" y="623" width="1" height="8"/>
<rect x="202" y="621" width="1" height="10"/>
<rect x="210" y="619" width="1" height="12"/>
<rect x="218" y="621" width="1" height="10"/>
<rect x="226" y="622" width="1" height="9"/>
<rect x="234" y="628" width="1" height="3"/>
<rect x="242" y="630" width="1" height="1"/>
<rect x="250" y="630" width="1" height="1"/>
<rect x="258" y="631" width="1" height="4"/>
<rect x="266" y="631" width="1" height="9"/>
<rect x="274" y="631" width="1" height="13"/>
<rect x="282" y="631" width="1" height="16"/>
<rect x="290" y="631" width="1" height="17"/>
<rect x="298" y="631" width="1" height="18"/>
<rect x="306" y="631" width="1" height="18"/>
<rect x="314" y="631" width="1" height="23"/>
<rect x="322" y="631" width="1" height="29"/>
<rect x="330" y="631" width="1" height="34"/>
<rect x="338" y="631" width="1" height="40"/>
<rect x="346" y="631" width="1" height="46"/>
<rect x="354" y="631" width="1" height="51"/>
<rect x="362" y="631" width="1" height="51"/>
<rect x="370" y="631" width="1" height="52"/>
<rect x="378" y="631" width="1" height="52"/>
<rect x="386" y="631" width="1" height="49"/>
<rect x="394" y="631" width="1" height="49"/>
<rect x="402" y="631" width="1" height="47"/>
<rect x="410" y="631" width="1" height="48"/>
<rect x="418" y="631" width="1" height="49"/>
<rect x="426" y="631" width="1" height="45"/>
<rect x="434" y="631" width="1" height="40"/>
<rect x="442" y="631" width="1" height="35"/>
<rect x="450" y="631" width="1" height="29"/>
<rect x="458" y="631" width="1" height="23"/>
<rect x="466" y="631" width="1" height="18"/>
<rect x="474" y="631" width="1" height="16"/>
<rect x="482" y="631" width="1" height="14"/>
<rect x="490" y="631" width="1" height="10"/>
<rect x="498" y="631" width="1" height="9"/>
<rect x="506" y="631" width="1" height="13"/>
<rect x="514" y="631" width="1" height="15"/>
<rect x="522" y="631" width="1" height="16"/>
<rect x="530" y="631" width="1" height="20"/>
<rect x="538" y="631" width="1" height="23"/>
<rect x="546" y="631" width="1" height="24"/>
<rect x="554" y="631" width="1" height="28"/>
<rect x="562" y="631" width="1" height="31"/>
<rect x="570" y="631" width="1" height="35"/>
<rect x="578" y="631" width="1" height="39"/>
<rect x="586" y="631" width="1" height="40"/>
<rect x="594" y="631" width="1" height="42"/>
<rect x="602" y="631" width="1" height="40"/>
<rect x="610" y="631" width="1" height="37"/>
<rect x="618" y="631" width="1" height="35"/>
<rect x="626" y="631" width="1" height="31"/>
<rect x="634" y="631" width="1" height="29"/>
<rect x="642" y="631" width="1" height="26"/>
<rect x="650" y="631" width="1" height="23"/>
<rect x="658" y="631" width="1" height="21"/>
<rect x="666" y="631" width="1" height="22"/>
<rect x="674" y="631" width="1" height="21"/>
<rect x="682" y="631" width="1" height="20"/>
<rect x="690" y="631" width="1" height="16"/>
<rect x="698" y="631" width="1" height="14"/>
<rect x="706" y="631" width="1" height="12"/>
<rect x="714" y="631" width="1" height="12"/>
<rect x="722" y="631" width="1" height="10"/>
<rect x="730" y="631" width="1" height="10"/>
<rect x="738" y="631" width="1" height="13"/>
<rect x="746" y="631" width="1" height="14"/>
<rect x="754" y="631" width="1" height="15"/>
<rect x="762" y="631" width="1" height="12"/>
<rect x="770" y="631" width="1" height="7"/>
<rect x="778" y="631" width="1" height="2"/>
<rect x="786" y="629" width="1" height="2"/>
<rect x="794" y="624" width="1" height="7"/>
<rect x="802" y="622" width="1" height="9"/>
<rect x="810" y="614" width="1" height="17"/>
<rect x="818" y="608" width="1" height="23"/>
<rect x="826" y="602" width="1" height="29"/>
<rect x="834" y="597" width="1" height="34"/>
<rect x="842" y="597" width="1" height="34"/>
<rect x="850" y="595" width="1" height="36"/>
<rect x="858" y="595" width="1" height="36"/>
<rect x="866" y="597" width="1" height="34"/>
<rect x="874" y="598" width="1" height="33"/>
<rect x="882" y="601" width="1" height="30"/>
<rect x="890" y="603" width="1" height="28"/>
<rect x="898" y="605" width="1" height="26"/>
<rect x="906" y="601" width="1" height="30"/>
<rect x="914" y="595" width="1" height="36"/>
<rect x="922" y="593" width="1" height="38"/>
<rect x="930" y="590" width="1" height="41"/>
<rect x="938" y="591" width="1" height="40"/>
<rect x="946" y="592" width="1" height="39"/>
<rect x="954" y="597" width="1" height="34"/>
<rect x="962" y="603" width="1" height="28"/>
<rect x="970" y="607" width="1" height="24"/>
<rect x="978" y="610" width="1" height="21"/>
<rect x="986" y="619" width="1" height="12"/>
<rect x="994" y="625" width="1" height="6"/>
<rect x="1002" y="630" width="1" height="1"/>
<rect x="1010" y="631" width="1" height="7"/>
<rect x="1018" y="631" width="1" height="9"/>
<rect x="1026" y="631" width="1" height="2"/>
<rect x="1034" y="630" width="1" height="1"/>
<rect x="1042" y="626" width="1" height="5"/>
<rect x="1050" y="624" width="1" height="7"/>
<rect x="1058" y="625" width="1" height="6"/>
<rect x="1066" y="624" width="1" height="7"/>
<rect x="1074" y="619" width="1" height="12"/>
<rect x="1082" y="614" width="1" height="17"/>
<rect x="1090" y="612" width="1" height="19"/>
<rect x="1098" y="608" width="1" height="23"/>
<rect x="1106" y="606" width="1" height="25"/>
<rect x="1114" y="605" width="1" height="26"/>
<rect x="1122" y="606" width="1" height="25"/>
<rect x="1130" y="611" width="1" height="20"/>
<rect x="1138" y="614" width="1" height="17"/>
<rect x="1146" y="617" width="1" height="14"/>
<rect x="1154" y="617" width="1" height="14"/>
<rect x="1162" y="616" width="1" height="15"/>
<rect x="1170" y="618" width="1" height="13"/>
<rect x="1178" y="618" width="1" height="13"/>
<rect x="1186" y="618" width="1" height="13"/>
<rect x="1194" y="622" width="1" height="9"/>
<rect x="1202" y="627" width="1" height="4"/>
<rect x="1210" y="630" width="1" height="1"/>
<rect x="1218" y="631" width="1" height="9"/>
<rect x="1226" y="631" width="1" height="16"/>
<rect x="1234" y="631" width="1" height="20"/>
<rect x="1242" y="631" width="1" height="23"/>
<rect x="1250" y="631" width="1" height="34"/>
<rect x="1258" y="631" width="1" height="42"/>
<rect x="1266" y="631" width="1" height="49"/>
<rect x="1274" y="631" width="1" height="55"/>
<rect x="1282" y="631" width="1" height="61"/>
<rect x="1290" y="631" width="1" height="63"/>
<rect x="1298" y="631" width="1" height="64"/>
<rect x="1306" y="631" width="1" height="65"/>
<rect x="1314" y="631" width="1" height="65"/>
<rect x="1322" y="631" width="1" height="67"/>
<rect x="1330" y="631" width="1" height="67"/>
<rect x="1338" y="631" width="1" height="68"/>
<rect x="1346" y="631" width="1" height="69"/>
<rect x="1354" y="631" width="1" height="72"/>
<rect x="1362" y="631" width="1" height="81"/>
<rect x="1370" y="631" width="1" height="89"/>
<rect x="1378" y="631" width="1" height="94"/>
<rect x="1386" y="631" width="1" height="97"/>
<rect x="1394" y="631" width="1" height="105"/>
<rect x="1402" y="631" width="1" height="106"/>
<rect x="1410" y="631" width="1" height="104"/>
<rect x="1418" y="631" width="1" height="101"/>
<rect x="1426" y="631" width="1" height="102"/>
<rect x="1434" y="631" width="1" height="104"/>
<rect x="1442" y="631" width="1" height="105"/>
<rect x="1450" y="631" width="1" height="110"/>
</g>
<g clip-path="url(#cmacd)"><polyline points="0.0,596.9 12.7,604.3 25.4,613.9 42.3,624.0 59.3,632.9 74.1,638.2 88.9,643.1 105.8,647.3 122.8,650.3 143.9,652.4 160.8,650.5 179.9,644.6 201.1,634.6 222.2,625.5 243.4,624.4 260.3,625.1 275.1,630.8 296.3,638.8 317.5,643.5 338.6,654.1 350.0,660.4 360.6,665.1 377.5,673.1 392.3,678.4 413.5,681.6 438.9,677.8 460.0,670.0 485.4,659.4 510.8,648.1 529.9,646.7 548.9,647.3 570.1,654.1 582.8,660.4 604.0,664.7 616.7,668.5 635.7,668.5 650.5,665.1 667.5,661.5 688.6,654.5 700.0,651.5 716.9,648.1 742.3,644.6 769.8,643.1 786.8,640.3 799.5,636.7 814.3,629.7 831.2,619.2 848.1,611.3 865.1,602.2 884.1,598.0 896.8,598.6 924.3,598.4 932.8,596.9 954.0,595.4 977.2,595.4 996.3,603.7 1011.1,613.9 1021.7,620.2 1034.4,627.0 1047.1,628.7 1065.9,629.5 1076.5,627.1 1084.4,623.1 1102.9,615.7 1118.8,613.1 1134.7,610.4 1171.7,611.0 1182.3,613.9 1195.5,617.0 1214.0,620.2 1229.9,627.6 1248.4,638.2 1266.9,652.8 1288.1,671.3 1306.6,681.9 1327.8,692.4 1354.2,699.0 1380.7,706.5 1407.1,720.2 1428.3,730.8 1449.5,734.8" fill="none" stroke="#ff0000" stroke-width="1" stroke-dasharray="2.5,2.5"/></g>
<text transform="translate(0.00,593.00) scale(0.970,1)" x="0" y="0" font-family="Liberation Sans" font-size="9.5" fill="#000" stroke="#000" stroke-width="0.2" >MACD(12,26,9) -855.76 -803.68</text>
<text transform="translate(1656.50,591.50) scale(0.970,1)" x="0" y="0" font-family="Liberation Sans" font-size="9.5" fill="#000" stroke="#000" stroke-width="0.2" >380.62</text>
<text transform="translate(1657.00,635.00) scale(0.970,1)" x="0" y="0" font-family="Liberation Sans" font-size="9.5" fill="#000" stroke="#000" stroke-width="0.2" >0.00</text>
<text transform="translate(1656.50,747.00) scale(0.970,1)" x="0" y="0" font-family="Liberation Sans" font-size="9.5" fill="#000" stroke="#000" stroke-width="0.2" >-914.63</text>
<text transform="translate(1657.00,763.00) scale(0.970,1)" x="0" y="0" font-family="Liberation Sans" font-size="9.5" fill="#000" stroke="#000" stroke-width="0.2" >100</text>
<text transform="translate(1657.00,792.00) scale(0.970,1)" x="0" y="0" font-family="Liberation Sans" font-size="9.5" fill="#000" stroke="#000" stroke-width="0.2" >80</text>
<text transform="translate(1657.00,843.00) scale(0.970,1)" x="0" y="0" font-family="Liberation Sans" font-size="9.5" fill="#000" stroke="#000" stroke-width="0.2" >50</text>
<text transform="translate(1657.00,904.00) scale(0.970,1)" x="0" y="0" font-family="Liberation Sans" font-size="9.5" fill="#000" stroke="#000" stroke-width="0.2" >15</text>
<text transform="translate(1657.00,923.00) scale(0.970,1)" x="0" y="0" font-family="Liberation Sans" font-size="9.5" fill="#000" stroke="#000" stroke-width="0.2" >0</text>
<g shape-rendering="crispEdges" stroke="#c0c0c0" stroke-width="1" stroke-dasharray="3,3">
<line x1="1" y1="788.5" x2="1653" y2="788.5"/>
<line x1="1" y1="839.5" x2="1653" y2="839.5"/>
<line x1="1" y1="900.5" x2="1653" y2="900.5"/>
</g>
<g clip-path="url(#crsi)"><polyline points="0.0,850.0 10.4,862.4 18.3,858.4 26.2,847.7 34.4,859.6 42.3,865.2 50.2,854.8 58.4,853.4 66.3,845.5 74.2,854.2 82.4,857.6 90.3,862.4 98.2,862.4 106.4,862.4 114.3,859.6 122.2,869.7 130.4,842.1 138.3,845.5 146.2,835.0 154.3,831.4 162.2,830.2 170.1,833.0 178.3,828.5 186.2,819.5 194.1,819.5 202.3,824.6 210.2,821.8 218.1,838.7 226.3,837.6 234.2,855.3 242.1,849.1 250.3,850.0 258.2,852.0 266.1,859.0 274.3,863.5 282.2,860.4 290.1,856.7 298.2,855.6 306.1,853.9 314.1,872.6 322.2,876.5 330.1,878.8 338.0,882.1 346.2,885.8 354.1,887.2 362.0,869.7 370.2,874.5 378.1,868.9 386.0,866.9 394.2,870.3 402.1,860.4 410.0,868.9 418.2,872.6 426.1,857.6 434.0,842.1 442.2,845.5 450.1,842.1 458.0,835.0 466.1,837.3 474.0,838.7 482.1,844.3 490.0,834.2 497.9,842.6 506.1,853.9 514.0,856.2 521.9,852.5 530.1,860.4 538.0,864.6 545.9,854.8 554.1,863.2 562.0,864.6 569.9,869.7 578.1,872.6 586.0,868.0 593.9,866.1 602.0,859.6 610.0,856.2 617.9,853.9 626.0,851.1 633.9,848.3 641.8,849.1 650.0,842.6 657.9,855.6 665.8,856.2 674.0,852.0 681.9,850.0 689.8,835.6 698.0,844.3 705.9,843.5 713.8,845.5 722.0,841.5 729.9,850.0 737.8,859.0 746.0,862.4 753.9,852.0 761.8,835.0 770.0,828.5 777.8,821.8 785.7,822.3 793.9,817.5 801.8,822.9 809.7,808.2 817.9,804.8 825.8,803.4 833.7,802.0 841.9,816.7 849.8,811.6 857.7,818.9 865.9,822.3 873.8,822.3 881.7,830.2 889.9,827.4 897.8,829.4 905.7,807.7 913.9,802.6 921.8,813.3 929.7,810.5 937.8,818.9 945.7,820.9 954.5,836.0 962.4,839.3 970.3,838.3 978.5,836.6 986.4,858.0 994.3,852.4 1002.6,858.0 1010.5,861.6 1018.4,845.8 1026.3,829.4 1034.5,826.7 1042.4,829.4 1050.3,829.4 1058.5,838.3 1066.4,833.7 1074.3,821.2 1082.2,821.2 1090.5,825.1 1098.4,818.5 1106.3,821.2 1114.5,822.8 1122.4,834.3 1130.3,838.3 1138.5,840.9 1146.4,837.0 1154.3,831.7 1162.2,829.4 1170.5,836.0 1178.4,831.7 1186.3,831.7 1194.5,845.8 1202.4,850.8 1210.3,851.4 1218.5,870.5 1226.4,864.9 1234.3,860.0 1242.6,861.3 1250.5,877.8 1258.4,879.4 1266.6,879.4 1274.5,882.7 1282.4,886.0 1290.6,873.8 1298.5,873.8 1306.4,876.1 1314.6,878.1 1322.6,879.4 1330.5,877.8 1338.3,877.8 1346.6,888.0 1354.5,886.0 1362.4,895.2 1370.6,896.9 1378.5,895.9 1386.4,897.5 1394.6,903.5 1402.6,890.3 1410.5,876.1 1418.3,877.1 1426.6,884.7 1434.5,874.8 1442.4,882.7 1450.6,886.1" fill="none" stroke="#1e90ff" stroke-width="1"/></g>
<text transform="translate(-1.00,765.00) scale(0.970,1)" x="0" y="0" font-family="Liberation Sans" font-size="9.5" fill="#000" stroke="#000" stroke-width="0.2" >RSI(14) 23.0664</text>
<g shape-rendering="crispEdges" fill="#000">
<rect x="58" y="927" width="1" height="4"/>
<rect x="122" y="927" width="1" height="4"/>
<rect x="186" y="927" width="1" height="4"/>
<rect x="250" y="927" width="1" height="4"/>
<rect x="314" y="927" width="1" height="4"/>
<rect x="378" y="927" width="1" height="4"/>
<rect x="442" y="927" width="1" height="4"/>
<rect x="506" y="927" width="1" height="4"/>
<rect x="570" y="927" width="1" height="4"/>
<rect x="634" y="927" width="1" height="4"/>
<rect x="698" y="927" width="1" height="4"/>
<rect x="762" y="927" width="1" height="4"/>
<rect x="826" y="927" width="1" height="4"/>
<rect x="890" y="927" width="1" height="4"/>
<rect x="954" y="927" width="1" height="4"/>
<rect x="1018" y="927" width="1" height="4"/>
<rect x="1082" y="927" width="1" height="4"/>
<rect x="1146" y="927" width="1" height="4"/>
<rect x="1210" y="927" width="1" height="4"/>
<rect x="1274" y="927" width="1" height="4"/>
<rect x="1338" y="927" width="1" height="4"/>
<rect x="1402" y="927" width="1" height="4"/>
</g>
<g>
<text transform="translate(-6.00,939.00) scale(0.970,1)" x="0" y="0" font-family="Liberation Sans" font-size="9.5" fill="#000" stroke="#000" stroke-width="0.2" >29 Oct 2021</text>
<text transform="translate(57.00,939.00) scale(0.970,1)" x="0" y="0" font-family="Liberation Sans" font-size="9.5" fill="#000" stroke="#000" stroke-width="0.2" >4 Nov 01:15</text>
<text transform="translate(121.00,939.00) scale(0.970,1)" x="0" y="0" font-family="Liberation Sans" font-size="9.5" fill="#000" stroke="#000" stroke-width="0.2" >10 Nov 01:15</text>
<text transform="translate(185.00,939.00) scale(0.970,1)" x="0" y="0" font-family="Liberation Sans" font-size="9.5" fill="#000" stroke="#000" stroke-width="0.2" >16 Nov 01:15</text>
<text transform="translate(249.00,939.00) scale(0.970,1)" x="0" y="0" font-family="Liberation Sans" font-size="9.5" fill="#000" stroke="#000" stroke-width="0.2" >22 Nov 01:15</text>
<text transform="translate(313.00,939.00) scale(0.970,1)" x="0" y="0" font-family="Liberation Sans" font-size="9.5" fill="#000" stroke="#000" stroke-width="0.2" >26 Nov 01:15</text>
<text transform="translate(377.00,939.00) scale(0.970,1)" x="0" y="0" font-family="Liberation Sans" font-size="9.5" fill="#000" stroke="#000" stroke-width="0.2" >2 Dec 01:15</text>
<text transform="translate(441.00,939.00) scale(0.970,1)" x="0" y="0" font-family="Liberation Sans" font-size="9.5" fill="#000" stroke="#000" stroke-width="0.2" >8 Dec 01:15</text>
<text transform="translate(505.00,939.00) scale(0.970,1)" x="0" y="0" font-family="Liberation Sans" font-size="9.5" fill="#000" stroke="#000" stroke-width="0.2" >14 Dec 01:15</text>
<text transform="translate(569.00,939.00) scale(0.970,1)" x="0" y="0" font-family="Liberation Sans" font-size="9.5" fill="#000" stroke="#000" stroke-width="0.2" >20 Dec 01:15</text>
<text transform="translate(633.00,939.00) scale(0.970,1)" x="0" y="0" font-family="Liberation Sans" font-size="9.5" fill="#000" stroke="#000" stroke-width="0.2" >24 Dec 01:15</text>
<text transform="translate(697.00,939.00) scale(0.970,1)" x="0" y="0" font-family="Liberation Sans" font-size="9.5" fill="#000" stroke="#000" stroke-width="0.2" >3 Jan 01:15</text>
<text transform="translate(761.00,939.00) scale(0.970,1)" x="0" y="0" font-family="Liberation Sans" font-size="9.5" fill="#000" stroke="#000" stroke-width="0.2" >7 Jan 01:15</text>
<text transform="translate(825.00,939.00) scale(0.970,1)" x="0" y="0" font-family="Liberation Sans" font-size="9.5" fill="#000" stroke="#000" stroke-width="0.2" >13 Jan 01:15</text>
<text transform="translate(889.00,939.00) scale(0.970,1)" x="0" y="0" font-family="Liberation Sans" font-size="9.5" fill="#000" stroke="#000" stroke-width="0.2" >19 Jan 01:15</text>
<text transform="translate(953.00,939.00) scale(0.970,1)" x="0" y="0" font-family="Liberation Sans" font-size="9.5" fill="#000" stroke="#000" stroke-width="0.2" >25 Jan 01:15</text>
<text transform="translate(1017.00,939.00) scale(0.970,1)" x="0" y="0" font-family="Liberation Sans" font-size="9.5" fill="#000" stroke="#000" stroke-width="0.2" >31 Jan 01:15</text>
<text transform="translate(1081.00,939.00) scale(0.970,1)" x="0" y="0" font-family="Liberation Sans" font-size="9.5" fill="#000" stroke="#000" stroke-width="0.2" >9 Feb 05:00</text>
<text transform="translate(1145.00,939.00) scale(0.970,1)" x="0" y="0" font-family="Liberation Sans" font-size="9.5" fill="#000" stroke="#000" stroke-width="0.2" >15 Feb 05:00</text>
<text transform="translate(1209.00,939.00) scale(0.970,1)" x="0" y="0" font-family="Liberation Sans" font-size="9.5" fill="#000" stroke="#000" stroke-width="0.2" >21 Feb 05:00</text>
<text transform="translate(1273.00,939.00) scale(0.970,1)" x="0" y="0" font-family="Liberation Sans" font-size="9.5" fill="#000" stroke="#000" stroke-width="0.2" >25 Feb 05:00</text>
<text transform="translate(1337.00,939.00) scale(0.970,1)" x="0" y="0" font-family="Liberation Sans" font-size="9.5" fill="#000" stroke="#000" stroke-width="0.2" >3 Mar 05:00</text>
<text transform="translate(1401.00,939.00) scale(0.970,1)" x="0" y="0" font-family="Liberation Sans" font-size="9.5" fill="#000" stroke="#000" stroke-width="0.2" >9 Mar 05:00</text>
</g>
</svg>
<div class="abs" style="left:0;top:43px;width:217px;height:61px;background:#fff"></div>
<div class="abs" style="left:0;top:45px;width:49px;height:24px;background:linear-gradient(#fa5555,#dc2a2a);box-shadow:inset -1px 1px 0 #b00000;"></div>
<div class="abs" style="left:0;top:68px;width:46px;height:1px;background:#7a0000"></div>
<div class="abs" style="left:0;top:69px;width:106px;height:33px;background:linear-gradient(#dc2e2e,#b40303);box-shadow:inset 0 1px 0 #b80000;"></div>
<div class="abs" style="left:1px;top:69px;width:45px;height:1px;background:#f07070"></div>
<div class="abs" style="left:164px;top:45px;width:52px;height:24px;background:linear-gradient(#fa5555,#dc2a2a);box-shadow:inset 1px 1px 0 #b00000, inset -1px 0 0 #b00000;"></div>
<div class="abs" style="left:168px;top:68px;width:45px;height:1px;background:#7a0000"></div>
<div class="abs" style="left:108px;top:69px;width:108px;height:33px;background:linear-gradient(#dc2e2e,#b40303);box-shadow:inset 0 1px 0 #b80000;"></div>
<div class="abs" style="left:168px;top:69px;width:45px;height:1px;background:#f07070"></div>
<div class="abs" style="left:51px;top:45px;width:109px;height:20px;border:1px solid #a6a9b0;background:#fff;"></div>
<div class="abs" style="left:53px;top:47px;width:19px;height:18px;background:linear-gradient(#f2f2f2 0,#ececec 40%,#d6d6d6 45%,#d2d2d2 100%);"></div>
<div class="abs" style="left:72px;top:46px;width:1px;height:20px;background:#a6a9b0"></div>
<div class="abs" style="left:141px;top:46px;width:1px;height:20px;background:#a6a9b0"></div>
<div class="abs" style="left:143px;top:47px;width:17px;height:18px;background:linear-gradient(#f2f2f2 0,#ececec 40%,#d6d6d6 45%,#d2d2d2 100%);"></div>
<svg class="abs" style="left:0;top:0" width="220" height="110">
<polygon points="58.5,53.5 64.5,53.5 61.5,57" fill="#5060c8"/>
<polygon points="147.5,57 153.5,57 150.5,53.5" fill="#5060c8"/>
<text x="9.5" y="61" font-family="Liberation Sans" font-size="11.5" fill="#fff" textLength="25.5" lengthAdjust="spacingAndGlyphs">SELL</text>
<text x="177.5" y="61" font-family="Liberation Sans" font-size="11.5" fill="#fff" textLength="23.5" lengthAdjust="spacingAndGlyphs">BUY</text>
<text x="113.5" y="60" font-family="Liberation Sans" font-size="11.5" fill="#000" textLength="23" lengthAdjust="spacingAndGlyphs">1.00</text>
<text x="13" y="97" font-family="Liberation Sans" font-size="12" font-weight="bold" fill="#fff" textLength="34.5" lengthAdjust="spacingAndGlyphs">19571</text>
<rect x="52.5" y="93" width="3.5" height="4" fill="#fff"/>
<path transform="translate(0,0)" d="M73,74.2 H62.3 L61.3,85 C62.8,83.5 64.8,82.6 67,82.6 C71.3,82.6 73.8,85.6 73.8,89.5 C73.8,93.6 71,96.3 66.8,96.3 C64.2,96.3 62.1,95.4 60.6,93.8" fill="none" stroke="#fff" stroke-width="2.1"/>
<text x="123.5" y="97" font-family="Liberation Sans" font-size="12" font-weight="bold" fill="#fff" textLength="34" lengthAdjust="spacingAndGlyphs">19592</text>
<rect x="163.5" y="93" width="3.5" height="4" fill="#fff"/>
<path transform="translate(110.8,0)" d="M73,74.2 H62.3 L61.3,85 C62.8,83.5 64.8,82.6 67,82.6 C71.3,82.6 73.8,85.6 73.8,89.5 C73.8,93.6 71,96.3 66.8,96.3 C64.2,96.3 62.1,95.4 60.6,93.8" fill="none" stroke="#fff" stroke-width="2.1"/>
</svg>
<svg class="abs" style="left:0;top:26px" width="260" height="16">
<polygon points="0,6 4,10 0,10" fill="#000"/>
<text x="9.5" y="10.7" font-family="Liberation Sans" font-size="10" fill="#000" stroke="#000" stroke-width="0.15" textLength="41" lengthAdjust="spacingAndGlyphs">HK50-,H4</text>
<text x="56.5" y="10.7" font-family="Liberation Sans" font-size="10" fill="#000" stroke="#000" stroke-width="0.15" textLength="140.5" lengthAdjust="spacingAndGlyphs">19761.0 19910.0 19420.0 19573.0</text>
</svg>

</body></html>
